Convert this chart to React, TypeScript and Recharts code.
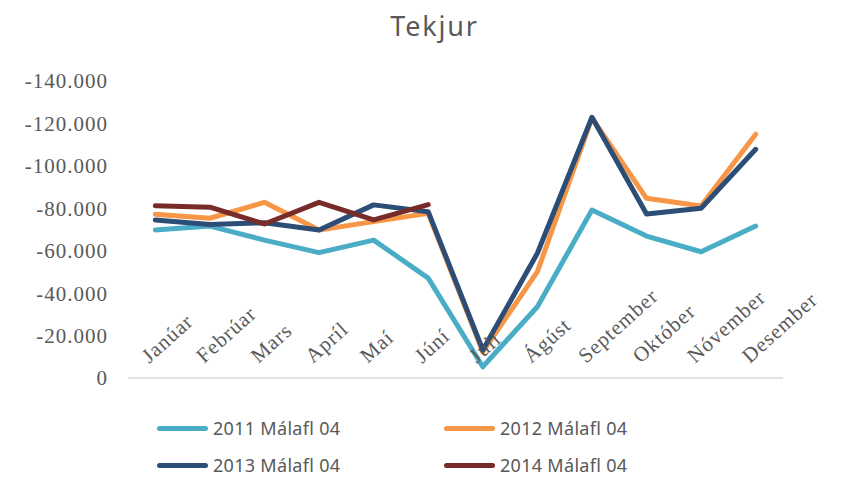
import React from 'react';
import { LineChart, Line, XAxis, YAxis } from 'recharts';

const months = ['Janúar', 'Febrúar', 'Mars', 'Apríl', 'Maí', 'Júní', 'Júlí', 'Ágúst', 'September', 'Október', 'Nóvember', 'Desember'];

// values shown as negative on the axis, stored positive here
const v2011 = [69800, 71600, 65000, 59100, 65000, 47100, 5300, 33600, 79200, 66900, 59500, 71600];
const v2012 = [77200, 75300, 82800, 69800, 73700, 77600, 12300, 50100, 122600, 84700, 81100, 114900];
const v2013 = [74500, 72400, 73200, 69800, 81600, 78400, 13200, 58800, 122900, 77300, 80000, 107800];
const v2014 = [81200, 80500, 72600, 82800, 74500, 81700, null, null, null, null, null, null];

const yTicks = [0, 20000, 40000, 60000, 80000, 100000, 120000, 140000];

const series = [
  { key: 's2011', name: '2011 Málafl 04', color: '#4BACC6' },
  { key: 's2012', name: '2012 Málafl 04', color: '#F79646' },
  { key: 's2013', name: '2013 Málafl 04', color: '#2C4D75' },
  { key: 's2014', name: '2014 Málafl 04', color: '#772C2A' },
];

const data = months.map((m, i) => ({
  month: m,
  s2011: v2011[i],
  s2012: v2012[i],
  s2013: v2013[i],
  s2014: v2014[i],
}));

const TEXT = '#595959';

function fmtY(v: number) {
  if (v === 0) return '0';
  return '-' + (v / 1000).toFixed(0) + '.000';
}

// labels sit above the axis line, rotated
function MonthTick(props: any) {
  const { x, y, payload } = props;
  const tx = x - 6;
  const ty = y - 14;
  return (
    <text
      x={tx}
      y={ty}
      transform={`rotate(-42 ${tx} ${ty})`}
      textAnchor="start"
      fill={TEXT}
      fontFamily="'Liberation Serif', serif"
      fontSize={21}
      letterSpacing={1}
    >
      {payload.value}
    </text>
  );
}

export default function App() {
  return (
    <div style={{ position: 'absolute', left: 0, top: 0, width: 843, height: 478, background: '#fff' }}>
      <div
        style={{
          position: 'absolute',
          top: 7,
          left: 26,
          width: 817,
          textAlign: 'center',
          fontFamily: "'Noto Sans', sans-serif",
          fontSize: 27,
          letterSpacing: 1.8,
          color: TEXT,
        }}
      >
        Tekjur
      </div>
      <LineChart width={843} height={478} data={data} margin={{ top: 81, right: 60, bottom: 70, left: 0 }}>
        <XAxis
          dataKey="month"
          height={30}
          tickLine={false}
          tickSize={0}
          tickMargin={0}
          axisLine={{ stroke: '#D9D9D9', strokeWidth: 1.5 }}
          padding={{ left: 27.3, right: 27.3 }}
          interval={0}
          tick={<MonthTick />}
        />
        <YAxis
          width={128}
          domain={[0, 140000]}
          ticks={yTicks}
          tickFormatter={fmtY}
          axisLine={false}
          tickLine={false}
          tickMargin={14}
          tick={{ fill: TEXT, fontFamily: "'Liberation Serif', serif", fontSize: 21, letterSpacing: 1 }}
        />
        {series.map((s) => (
          <Line
            key={s.key}
            dataKey={s.key}
            name={s.name}
            stroke={s.color}
            strokeWidth={5}
            strokeLinejoin="round"
            strokeLinecap="round"
            dot={false}
            activeDot={false}
            isAnimationActive={false}
          />
        ))}
      </LineChart>
      {series.map((s, i) => {
        const col = i % 2;
        const row = Math.floor(i / 2);
        return (
          <div
            key={s.key}
            style={{
              position: 'absolute',
              left: col === 0 ? 157 : 444,
              top: row === 0 ? 416 : 453,
              height: 24,
              display: 'flex',
              alignItems: 'center',
            }}
          >
            <div style={{ width: 51, height: 5, borderRadius: 3, background: s.color }} />
            <span
              style={{
                marginLeft: 5,
                fontFamily: "'Noto Sans', sans-serif",
                fontSize: 18,
                color: TEXT,
                letterSpacing: 0.3,
              }}
            >
              {s.name}
            </span>
          </div>
        );
      })}
    </div>
  );
}
